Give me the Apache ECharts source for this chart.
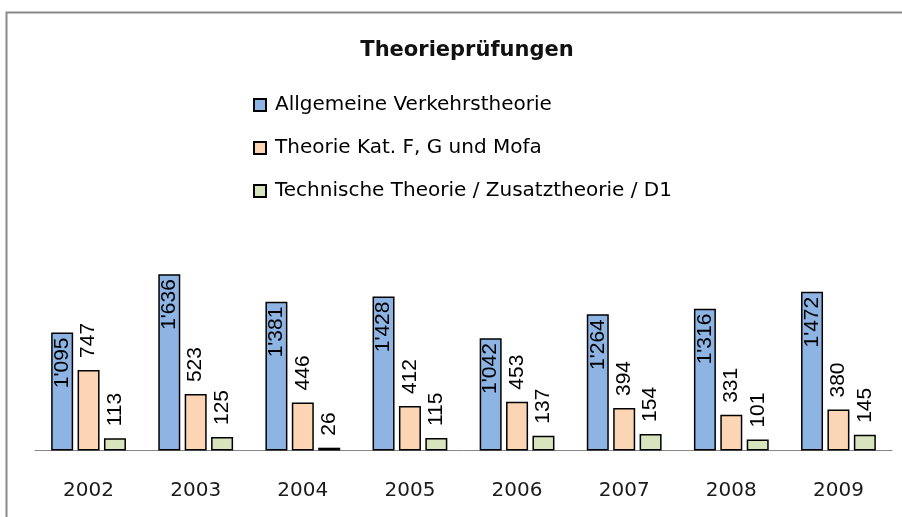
<!DOCTYPE html>
<html>
<head>
<meta charset="utf-8">
<script src="https://cdn.jsdelivr.net/npm/echarts@6/dist/echarts.min.js"></script>
<style>
html,body{margin:0;padding:0;background:#fff;}
#c{width:902px;height:517px;}
</style>
</head>
<body>
<div id="c"></div>
<script>
const categories = ['2002','2003','2004','2005','2006','2007','2008','2009'];
const seriesNames = ['Allgemeine Verkehrstheorie','Theorie Kat. F, G und Mofa','Technische Theorie / Zusatztheorie / D1'];
const allgemein = [1095,1636,1381,1428,1042,1264,1316,1472];
const katFG = [747,523,446,412,453,394,331,380];
const technisch = [113,125,26,115,137,154,101,145];

const colors = ['#8EB4E3','#FCD5B5','#D7E4BD'];
function fmt(v){
  const s = String(v);
  return s.length > 3 ? s.slice(0, s.length-3) + "'" + s.slice(-3) : s;
}
const labelFont = {fontFamily:'Liberation Sans', fontSize:21, color:'#000'};

const chart = echarts.init(document.getElementById('c'), null, {renderer:'canvas'});
chart.setOption({
  animation:false,
  backgroundColor:'#fff',
  graphic:[{type:'rect', shape:{x:6.5,y:12.5,width:1000,height:1000}, style:{fill:'none',stroke:'#898989',lineWidth:2}, silent:true}],
  title:{text:'Theorieprüfungen', left:462, top:35, textAlign:'center',
    textStyle:{fontFamily:'DejaVu Sans', fontWeight:'bold', fontSize:21, color:'#111'}},
  legend:{orient:'vertical', left:248, top:89, itemWidth:12, itemHeight:12, itemGap:21,
    icon:'rect',
    textStyle:{fontFamily:'DejaVu Sans', fontSize:20, lineHeight:22, color:'#000', padding:[0,0,0,4]},
    data:seriesNames},
  grid:{left:35, right:10, bottom:66.5, height:215.6},
  xAxis:{type:'category', data:categories,
    axisLine:{lineStyle:{color:'#868686', width:1}},
    axisTick:{show:false},
    axisLabel:{fontFamily:'DejaVu Sans', fontSize:20, color:'#1a1a1a', margin:30}},
  yAxis:{type:'value', min:0, max:2000, show:false, splitLine:{show:false}},
  series:[
    {name:seriesNames[0], type:'bar', data:allgemein, barWidth:22, barGap:'20%',
      itemStyle:{color:colors[0], borderColor:'#000', borderWidth:1.5},
      label:{show:true, position:'insideTop', rotate:90, align:'right', verticalAlign:'middle', distance:5, formatter:p=>fmt(p.value), ...labelFont}},
    {name:seriesNames[1], type:'bar', data:katFG, barWidth:22, barGap:'20%',
      itemStyle:{color:colors[1], borderColor:'#000', borderWidth:1.5},
      label:{show:true, position:'top', rotate:90, align:'left', verticalAlign:'middle', distance:12, formatter:p=>fmt(p.value), ...labelFont}},
    {name:seriesNames[2], type:'bar', data:technisch, barWidth:22, barGap:'20%',
      itemStyle:{color:colors[2], borderColor:'#000', borderWidth:1.5},
      label:{show:true, position:'top', rotate:90, align:'left', verticalAlign:'middle', distance:12, formatter:p=>fmt(p.value), ...labelFont}}
  ]
});
</script>
</body>
</html>
